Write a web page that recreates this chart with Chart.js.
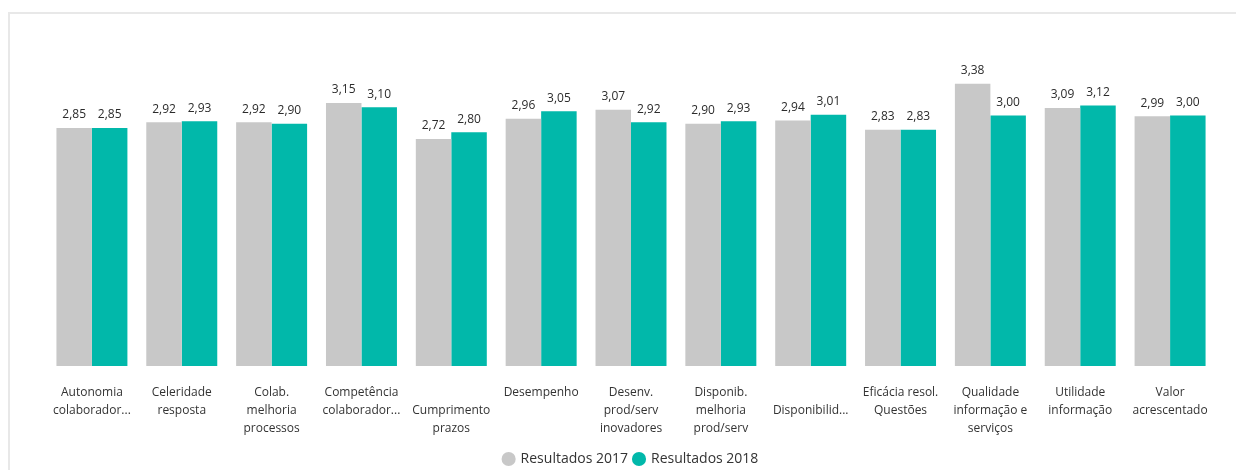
<!DOCTYPE html>
<html>
<head>
<meta charset="utf-8">
<script src="https://cdn.jsdelivr.net/npm/chart.js@4"></script>
<style>
  html, body { margin: 0; padding: 0; background: #fff; }
  #wrap { position: relative; width: 1236px; height: 470px; overflow: hidden; }
  #frame { position: absolute; left: 8px; top: 12px; width: 1300px; height: 500px;
           border: 2px solid #e8e8e8; box-sizing: border-box; }
  #chart { position: absolute; left: 0; top: 0; }
</style>
</head>
<body>
<div id="wrap">
  <div id="frame"></div>
  <canvas id="chart" width="1236" height="470"></canvas>
</div>
<script>
// categorias (quebradas em linhas como no visual)
const categories = [
  ["Autonomia", "colaborador..."],
  ["Celeridade", "resposta"],
  ["Colab.", "melhoria", "processos"],
  ["Competência", "colaborador..."],
  ["", "Cumprimento", "prazos"],
  ["Desempenho"],
  ["Desenv.", "prod/serv", "inovadores"],
  ["Disponib.", "melhoria", "prod/serv"],
  ["", "Disponibilid..."],
  ["Eficácia resol.", "Questões"],
  ["Qualidade", "informação e", "serviços"],
  ["Utilidade", "informação"],
  ["Valor", "acrescentado"]
];
const seriesNames = ["Resultados 2017", "Resultados 2018"];
const results2017 = [2.85, 2.92, 2.92, 3.15, 2.72, 2.96, 3.07, 2.90, 2.94, 2.83, 3.38, 3.09, 2.99];
const results2018 = [2.85, 2.93, 2.90, 3.10, 2.80, 3.05, 2.92, 2.93, 3.01, 2.83, 3.00, 3.12, 3.00];

const FONT = "'Open Sans', 'Noto Sans', sans-serif";

// rótulos de dados por cima das barras
const valueLabels = {
  id: "valueLabels",
  afterDatasetsDraw(chart) {
    const ctx = chart.ctx;
    ctx.save();
    ctx.font = "12px " + FONT;
    ctx.fillStyle = "#2b2b2b";
    ctx.textAlign = "center";
    ctx.textBaseline = "bottom";
    chart.data.datasets.forEach((ds, i) => {
      chart.getDatasetMeta(i).data.forEach((bar, j) => {
        const txt = ds.data[j].toFixed(2).replace(".", ",");
        ctx.fillText(txt, bar.x, bar.y - 7);
      });
    });
    ctx.restore();
  }
};

new Chart(document.getElementById("chart").getContext("2d"), {
  type: "bar",
  data: {
    labels: categories,
    datasets: [
      { label: seriesNames[0], data: results2017, backgroundColor: "#C8C8C8", borderWidth: 0 },
      { label: seriesNames[1], data: results2018, backgroundColor: "#01B8AA", borderWidth: 0 }
    ]
  },
  options: {
    responsive: false,
    animation: false,
    layout: { padding: { left: 47, right: 21, top: 32, bottom: -6 } },
    datasets: { bar: { categoryPercentage: 0.79, barPercentage: 1.0 } },
    plugins: {
      tooltip: { enabled: false },
      legend: {
        position: "bottom",
        labels: {
          usePointStyle: true,
          pointStyle: "circle",
          boxWidth: 10,
          boxHeight: 10,
          padding: 6,
          color: "#333333",
          font: { family: FONT, size: 14 }
        }
      }
    },
    scales: {
      x: {
        grid: { display: false },
        border: { display: false },
        ticks: {
          color: "#333333",
          font: { family: FONT, size: 12, lineHeight: 1.5 },
          padding: 10,
          maxRotation: 0,
          autoSkip: false
        },
        afterFit(scale) { scale.height = 80; }
      },
      y: {
        display: false,
        min: 0,
        max: 4
      }
    }
  },
  plugins: [valueLabels]
});
</script>
</body>
</html>
